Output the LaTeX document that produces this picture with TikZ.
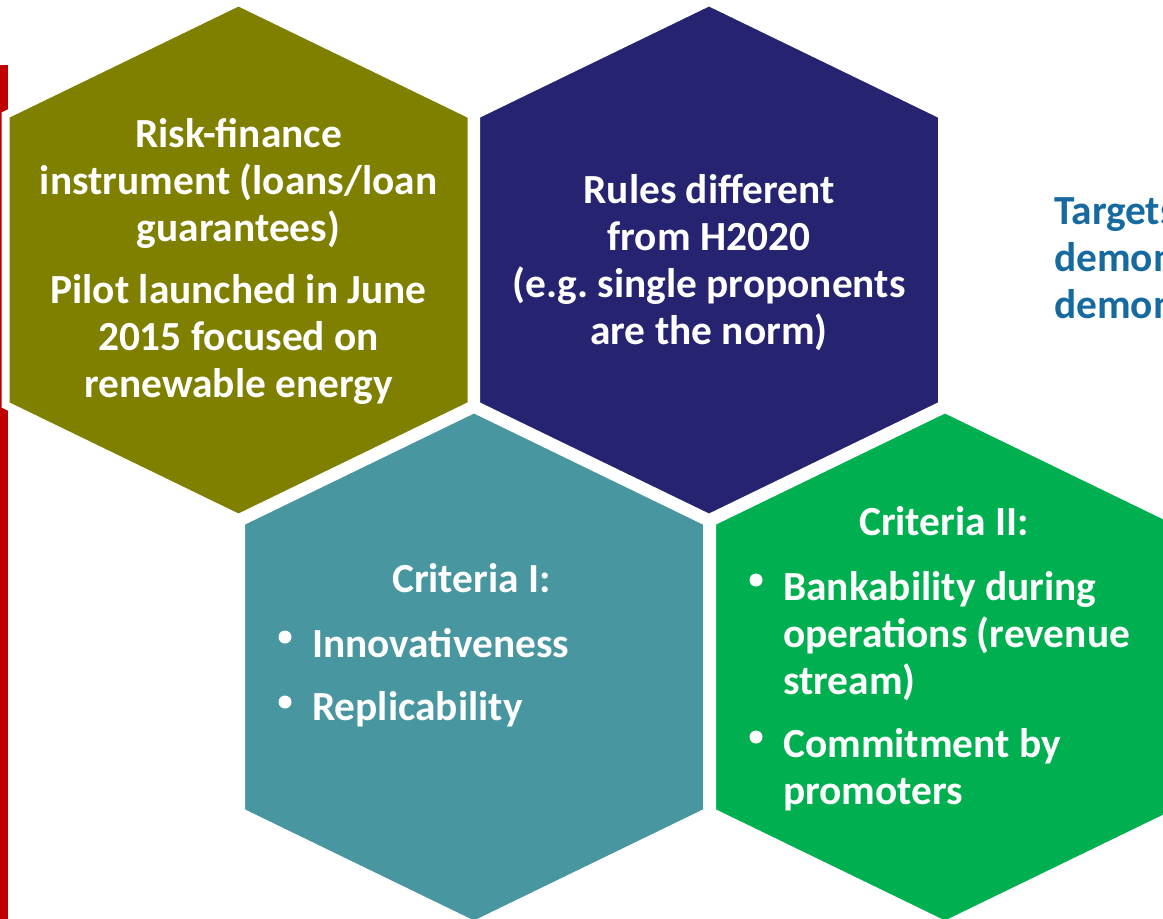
\documentclass[tikz,border=0pt]{standalone}
\usepackage{fontspec}
\setmainfont{Carlito}
\usepackage{tikz}
\usetikzlibrary{positioning}

\definecolor{olivehex}{RGB}{128,128,0}
\definecolor{navyhex}{RGB}{38,36,112}
\definecolor{tealhex}{RGB}{72,150,160}
\definecolor{greenhex}{RGB}{0,176,80}
\definecolor{redbar}{RGB}{192,0,0}
\definecolor{bluetext}{RGB}{22,106,160}

% spazi tra parole come nel font
\newcommand{\tightspace}{\spaceskip=\fontdimen2\font\relax\xspaceskip=\fontdimen2\font\relax}

% esagono: centro x, centro y, colore
\newcommand{\hexcell}[3]{%
  \filldraw[fill=#3, draw=white, line width=8pt, line join=miter]
    (#1,#2-258) -- (#1+233,#2-145) -- (#1+233,#2+145) -- (#1,#2+258)
    -- (#1-233,#2+145) -- (#1-233,#2-145) -- cycle;}

\begin{document}
\frenchspacing
\begin{tikzpicture}[x=1pt, y=-1pt,
    hextext/.style={inner sep=0pt, text=white, anchor=base,
      font=\fontsize{41.4}{47}\selectfont\bfseries,
      execute at begin node=\tightspace},
    bullettext/.style={hextext, text width=400pt, align=left, anchor=base west}]
  \useasboundingbox (0,0) rectangle (1163,919);
  \clip (0,0) rectangle (1163,919);

  % Barra rossa
  \fill[redbar] (0,65) rectangle (8,919);

  % Esagoni
  \hexcell{238.5}{260}{olivehex}
  \hexcell{709}{260}{navyhex}
  \hexcell{474}{667}{tealhex}
  \hexcell{945}{667}{greenhex}

  % Testo esagono oliva
  \node[hextext, text width=440pt, align=center] (risk) at (238.5,147)
    {Risk-finance\\instrument (loans/loan\\guarantees)\\[15pt]Pilot launched in June\\2015 focused on\\renewable energy};

  % Testo esagono blu
  \node[hextext, text width=440pt, align=center] (rules) at (709,203)
    {Rules different\\from H2020\\(e.g. single proponents\\are the norm)};

  % Criteri I
  \node[hextext] (crit1) at (471.5,592) {Criteria I:};
  \node[bullettext] (innov) at (312,657) {Innovativeness};
  \node[bullettext] (repl) at (312,720) {Replicability};
  \fill[white] (285,637) circle (6.5);
  \fill[white] (285,702) circle (6.5);

  % Criteri II
  \node[hextext] (crit2) at (944,535) {Criteria II:};
  \node[bullettext] (bank) at (783,600) {Bankability during\\operations (revenue\\stream)};
  \node[bullettext] (commit) at (783,757) {Commitment by\\promoters};
  \fill[white] (756,580) circle (6.5);
  \fill[white] (756,737) circle (6.5);

  % Testo a destra (tagliato)
  \node[bullettext, text=bluetext] (targets) at (1054,224)
    {Targets first-of-a-kind\\demonstration\\demonstration};
\end{tikzpicture}
\end{document}
